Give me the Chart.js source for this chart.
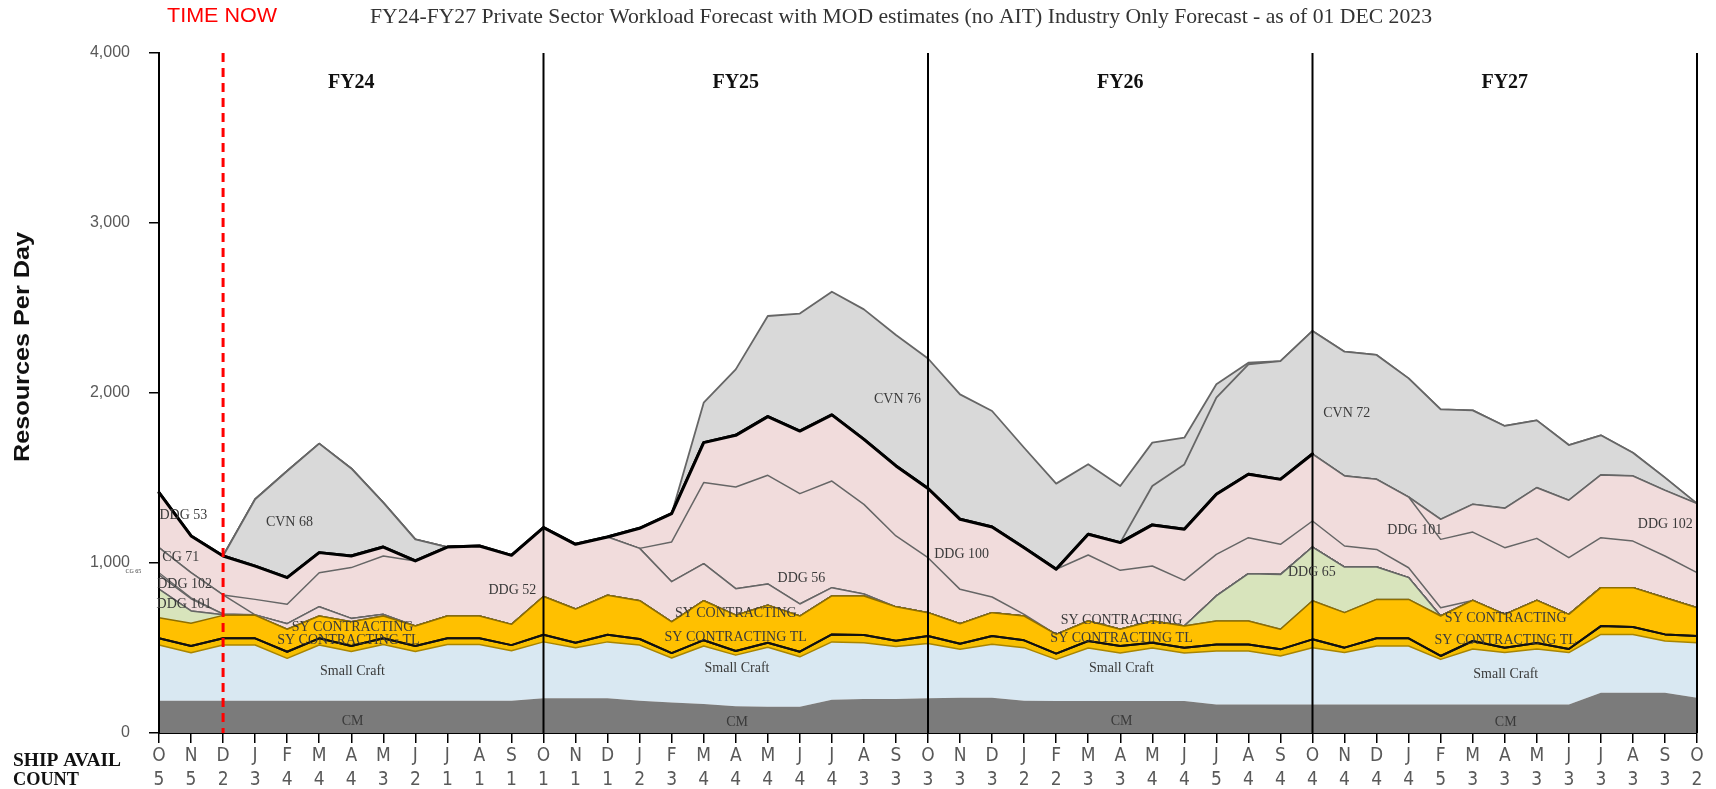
<!DOCTYPE html>
<html>
<head>
<meta charset="utf-8">
<script src="https://cdn.jsdelivr.net/npm/chart.js@4.4.1/dist/chart.umd.min.js"></script>
<style>
html,body{margin:0;padding:0;background:#ffffff;}
#wrap{width:1716px;height:789px;position:relative;}
canvas{display:block;}
</style>
</head>
<body>
<div id="wrap"><canvas id="c" width="1716" height="789"></canvas></div>
<script>
// ---------- DATA ----------
const months = ['O','N','D','J','F','M','A','M','J','J','A','S','O','N','D','J','F','M','A','M','J','J','A','S','O','N','D','J','F','M','A','M','J','J','A','S','O','N','D','J','F','M','A','M','J','J','A','S','O'];
const shipAvailCount = [5,5,2,3,4,4,4,3,2,1,1,1, 1,1,1,2,3,4,4,4,4,4,3,3, 3,3,3,2,2,3,3,4,4,5,4,4, 4,4,4,4,5,3,3,3,3,3,3,3, 2];
const fiscalYears = ['FY24','FY25','FY26','FY27'];
const yTicks = [0,1000,2000,3000,4000];

const cm = [190,190,190,190,190,190,190,190,190,190,190,190, 205,205,205,190,180,170,158,155,155,195,200,200, 205,208,208,190,188,188,188,188,188,168,168,168, 168,168,168,168,168,168,168,168,168,237,237,237, 208];
const smallCraft = [328,282,328,328,249,328,290,330,290,330,330,294, 331,297,331,327,261,342,300,349,293,341,331,309, 322,284,314,312,245,312,282,312,282,314,314,285, 334,305,344,344,265,326,305,326,305,343,343,304, 323];
const syContractingTL = [39,40,39,39,39,39,32,37,32,37,37,33, 42,29,42,36,29,34,24,27,30,44,45,34, 44,33,49,43,34,41,42,31,32,39,39,39, 49,29,45,45,20,47,29,36,21,49,44,39, 40];
const syContracting = [121,133,135,135,132,131,143,131,117,131,131,122, 225,198,232,225,184,232,211,221,210,226,230,199, 137,118,137,143,113,118,98,128,127,138,138,118, 227,206,229,229,235,239,196,250,204,226,231,216, 166];
const ddg101Green = [169,73,4,0,0,0,0,0,0,0,0,0, 0,0,0,0,0,0,0,0,0,0,0,0, 0,0,0,0,0,0,0,0,0,0,0,0, 0,0,0,0,0,0,0,0,0,0,0,0, 0];
const ddg65 = [0,0,0,0,0,0,0,0,0,0,0,0, 0,0,0,0,0,0,0,0,0,0,0,0, 0,0,0,0,0,0,0,0,0,147,278,322, 316,268,190,128,0,0,0,0,0,0,0,0, 0];
const ddg102Early = [83,72,4,3,33,55,19,10,0,0,0,0, 0,0,0,0,0,0,0,0,0,0,0,0, 0,0,0,0,0,0,0,0,0,0,0,0, 0,0,0,0,0,0,0,0,0,0,0,0, 0];
const cg65 = [13,6,0,0,0,0,0,0,0,0,0,0, 0,0,0,0,0,0,0,0,0,0,0,0, 0,0,0,0,0,0,0,0,0,0,0,0, 0,0,0,0,0,0,0,0,0,0,0,0, 0];
const cg71 = [147,147,112,0,0,0,0,0,0,0,0,0, 0,0,0,0,0,0,0,0,0,0,0,0, 0,0,0,0,0,0,0,0,0,0,0,0, 0,0,0,0,0,0,0,0,0,0,0,0, 0];
const ddg52 = [0,0,0,91,114,200,299,343,383,406,412,406, 405,381,343,308,236,218,156,125,71,49,12,0, 0,0,0,0,0,0,0,0,0,0,0,0, 0,0,0,0,0,0,0,0,0,0,0,0, 0];
const ddg53 = [324,216,229,196,157,118,68,53,0,0,0,0, 0,0,0,0,0,0,0,0,0,0,0,0, 0,0,0,0,0,0,0,0,0,0,0,0, 0,0,0,0,0,0,0,0,0,0,0,0, 0];
const ddg56 = [0,0,0,0,0,0,0,0,0,0,0,0, 0,0,0,0,234,477,598,639,649,627,527,417, 323,202,92,10,0,0,0,0,0,0,0,0, 0,0,0,0,0,0,0,0,0,0,0,0, 0];
const ddg100 = [0,0,0,0,0,0,0,0,0,0,0,0, 0,0,0,118,166,235,304,345,368,389,382,412, 407,412,412,392,383,388,347,323,269,245,212,178, 153,124,104,58,49,0,0,0,0,0,0,0, 0];
const ddg101 = [0,0,0,0,0,0,0,0,0,0,0,0, 0,0,0,0,0,0,0,0,0,0,0,0, 0,0,0,0,0,122,163,242,300,353,373,382, 394,412,412,416,402,402,392,365,333,294,274,245, 206];
const ddg102 = [0,0,0,0,0,0,0,0,0,0,0,0, 0,0,0,0,0,0,0,0,0,0,0,0, 0,0,0,0,0,0,0,0,0,0,0,0, 0,0,0,0,118,163,232,298,338,369,383,386, 406];
// zero-thickness marker riding on top of the non-carrier stack (bold outline through FY26)
const nonCarrierTop = [0,0,0,0,0,0,0,0,0,0,0,0, 0,0,0,0,0,0,0,0,0,0,0,0, 0,0,0,0,0,0,0,0,0,0,0,0, 0,null,null,null,null,null,null,null,null,null,null,null, null];
const cvn68 = [0,0,0,393,627,641,515,261,127,0,0,0, 0,0,0,0,0,0,0,0,0,0,0,0, 0,0,0,0,0,0,0,0,0,0,0,0, 0,0,0,0,0,0,0,0,0,0,0,0, 0];
const cvn72 = [0,0,0,0,0,0,0,0,0,0,0,0, 0,0,0,0,0,0,0,0,0,0,0,0, 0,0,0,0,0,0,0,229,382,569,647,696, 724,731,732,698,647,553,484,396,325,233,137,75, 0];
const cvn76 = [0,0,0,0,0,0,0,0,0,0,0,0, 0,0,0,0,0,235,388,592,691,725,765,770, 765,735,682,588,504,412,333,255,157,78,9,0, 0,0,0,0,0,0,0,0,0,0,0,0, 0];

// ---------- STYLE / ANNOTATION CONFIG ----------
const PINK='#f1dcdc', GREEN='#d8e4bc', GREY='#d9d9d9', LINE='#666666';
const fyBoundaryIdx = [0,12,24,36,48];
const timeNowIdx = 2;
const fyLabelIdx = [6,18,30,42];
const areaLabels = [
  {t:'DDG 53', x:0.76, y:1282},
  {t:'CG 71', x:0.68, y:1035},
  {t:'CG 65', x:-0.8, y:953, s:6},
  {t:'DDG 102', x:0.8, y:876},
  {t:'DDG 101', x:0.78, y:759},
  {t:'CVN 68', x:4.07, y:1241},
  {t:'DDG 52', x:11.03, y:841},
  {t:'SY CONTRACTING', x:6.04, y:624},
  {t:'SY CONTRACTING TL', x:5.91, y:547},
  {t:'Small Craft', x:6.04, y:365},
  {t:'CM', x:6.04, y:71},
  {t:'CVN 76', x:23.05, y:1965},
  {t:'DDG 56', x:20.05, y:912},
  {t:'SY CONTRACTING', x:18.0, y:706},
  {t:'SY CONTRACTING TL', x:18.0, y:565},
  {t:'Small Craft', x:18.04, y:379},
  {t:'CM', x:18.04, y:64},
  {t:'DDG 100', x:25.05, y:1053},
  {t:'SY CONTRACTING', x:30.04, y:664},
  {t:'SY CONTRACTING TL', x:30.04, y:559},
  {t:'Small Craft', x:30.04, y:379},
  {t:'CM', x:30.04, y:71},
  {t:'DDG 65', x:35.98, y:946},
  {t:'CVN 72', x:37.07, y:1879},
  {t:'DDG 101', x:39.19, y:1190},
  {t:'DDG 102', x:47.01, y:1229},
  {t:'SY CONTRACTING', x:42.03, y:676},
  {t:'SY CONTRACTING TL', x:42.03, y:547},
  {t:'Small Craft', x:42.03, y:347},
  {t:'CM', x:42.03, y:64}
];

function ds(label, data, bg, border, bw, fill){
  return {label, data, backgroundColor:bg, borderColor:border, borderWidth:bw,
          fill: fill===undefined ? '-1' : fill, pointRadius:0, pointHoverRadius:0, tension:0,
          borderJoinStyle:'round', spanGaps:false};
}
const DDG102_IDX = 14;
const datasets = [
  ds('CM', cm, '#7b7b7b', 'rgba(0,0,0,0)', 0, 'origin'),
  ds('Small Craft', smallCraft, '#d9e8f2', '#a98500', 1.5),
  ds('SY CONTRACTING TL', syContractingTL, '#f7bf00', '#111111', 2),
  ds('SY CONTRACTING', syContracting, '#ffc000', '#8f6f00', 1.5),
  ds('DDG 101 (green)', ddg101Green, GREEN, LINE, 1.5),
  ds('DDG 65', ddg65, GREEN, LINE, 1.5),
  ds('DDG 102 (FY24)', ddg102Early, PINK, LINE, 1.5),
  ds('CG 65', cg65, PINK, LINE, 1.2),
  ds('CG 71', cg71, PINK, LINE, 1.5),
  ds('DDG 52', ddg52, PINK, LINE, 1.5),
  ds('DDG 53', ddg53, PINK, LINE, 1.5),
  ds('DDG 56', ddg56, PINK, LINE, 1.5),
  ds('DDG 100', ddg100, PINK, LINE, 1.5),
  ds('DDG 101', ddg101, PINK, LINE, 1.5),
  ds('DDG 102', ddg102, PINK, LINE, 1.5),
  ds('Non-carrier total', nonCarrierTop, 'rgba(0,0,0,0)', '#000000', 3, false),
  ds('CVN 68', cvn68, GREY, LINE, 1.8, DDG102_IDX),
  ds('CVN 72', cvn72, GREY, LINE, 1.8),
  ds('CVN 76', cvn76, GREY, LINE, 1.8)
];
const boldIdx = 15, tlIdx = 2;

function fitText(ctx, text, cx, cy, font, color, width, align){
  ctx.save();
  ctx.font = font; ctx.fillStyle = color; ctx.textBaseline = 'middle';
  ctx.textAlign = align || 'center';
  const w = ctx.measureText(text).width;
  const sx = width ? width / w : 1;
  ctx.translate(cx, cy); ctx.scale(sx, 1); ctx.fillText(text, 0, 0);
  ctx.restore();
}

const overlay = {
  id:'overlay',
  afterDatasetsDraw(chart){
    const ctx = chart.ctx, xs = chart.scales.x, ys = chart.scales.y, a = chart.chartArea;
    [tlIdx, boldIdx].forEach(i => { const m = chart.getDatasetMeta(i); m.dataset.draw(ctx, a); });
    ctx.save();
    ctx.strokeStyle = '#000'; ctx.lineWidth = 2;
    fyBoundaryIdx.forEach(i => { const x = xs.getPixelForValue(i); ctx.beginPath(); ctx.moveTo(x, a.top); ctx.lineTo(x, a.bottom); ctx.stroke(); });
    ctx.strokeStyle = '#ff0000'; ctx.lineWidth = 3; ctx.setLineDash([9,6]);
    const xt = xs.getPixelForValue(timeNowIdx);
    ctx.beginPath(); ctx.moveTo(xt, a.top); ctx.lineTo(xt, a.bottom); ctx.stroke();
    ctx.restore();
    areaLabels.forEach(l => {
      fitText(ctx, l.t, xs.getPixelForValue(l.x), ys.getPixelForValue(l.y), (l.s||14)+'px "Liberation Serif", "Times New Roman", serif', '#3a3a3a');
    });
    fiscalYears.forEach((f, k) => {
      fitText(ctx, f, xs.getPixelForValue(fyLabelIdx[k]), ys.getPixelForValue(3824), 'bold 20px "Liberation Serif", "Times New Roman", serif', '#111');
    });
  },
  afterDraw(chart){
    const ctx = chart.ctx;
    fitText(ctx, 'FY24-FY27 Private Sector Workload Forecast with MOD estimates (no AIT) Industry Only Forecast - as of 01 DEC 2023', 901, 17, '21px "Liberation Serif", "Times New Roman", serif', '#333333', 1062);
    fitText(ctx, 'TIME NOW', 222, 16, '20px "Liberation Sans", Arial, sans-serif', '#ff0000', 110);
    ctx.save();
    ctx.translate(23, 347); ctx.rotate(-Math.PI/2);
    fitText(ctx, 'Resources Per Day', 0, 0, 'bold 22px "Liberation Sans", Arial, sans-serif', '#111', 230);
    ctx.restore();
    fitText(ctx, 'SHIP AVAIL', 13, 761, 'bold 18px "Liberation Serif", "Times New Roman", serif', '#111', 108, 'left');
    fitText(ctx, 'COUNT', 13, 780, 'bold 18px "Liberation Serif", "Times New Roman", serif', '#111', 66, 'left');
  }
};

const labels = months.map((m, i) => [m, String(shipAvailCount[i])]);

new Chart(document.getElementById('c'), {
  type:'line',
  data:{ labels, datasets },
  options:{
    responsive:false, animation:false, devicePixelRatio:1,
    layout:{ padding:{ left:0, right:19, top:53, bottom:0 } },
    plugins:{ legend:{display:false}, tooltip:{enabled:false}, title:{display:false} },
    elements:{ line:{ borderCapStyle:'round' } },
    scales:{
      x:{
        type:'category', offset:false,
        grid:{ drawOnChartArea:false, drawTicks:true, tickLength:10, color:'#000', lineWidth:1.5 },
        border:{ display:true, color:'#000', width:2 },
        ticks:{ autoSkip:false, maxRotation:0, minRotation:0, padding:1, color:'#595959',
                font:{ family:'"Liberation Sans Narrow", "Arial Narrow", "DejaVu Sans Condensed", "Liberation Sans", sans-serif', size:19, lineHeight:1.26 } },
        afterFit(s){ s.height = 56; }
      },
      y:{
        stacked:true, min:0, max:4000,
        afterBuildTicks(s){ s.ticks = yTicks.map(v => ({value:v})); },
        grid:{ drawOnChartArea:false, drawTicks:true, tickLength:10, color:'#000', lineWidth:1.5 },
        border:{ display:true, color:'#000', width:2 },
        ticks:{ padding:19, color:'#595959', font:{ family:'"Liberation Sans", Arial, sans-serif', size:16 },
                callback:(v) => Number(v).toLocaleString('en-US') },
        afterFit(s){ s.width = 159; }
      }
    }
  },
  plugins:[overlay]
});
</script>
</body>
</html>
